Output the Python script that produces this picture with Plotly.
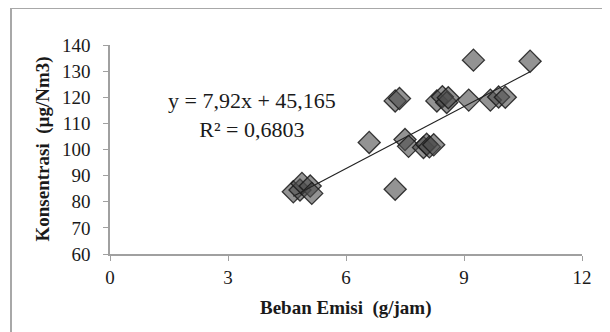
import plotly.graph_objects as go

beban_emisi = [4.66, 4.83, 4.88, 5.09, 5.13, 6.59, 7.25, 7.25, 7.36, 7.50, 7.59, 7.97,
               8.05, 8.12, 8.23, 8.31, 8.45, 8.56, 8.60, 9.12, 9.24, 9.67, 9.88, 10.05, 10.68]
konsentrasi = [83.8, 84.5, 87.0, 86.0, 83.2, 102.7, 84.8, 118.6, 119.5, 103.8, 101.2, 100.8,
               102.0, 101.0, 101.8, 118.6, 120.2, 118.0, 119.8, 118.9, 134.2, 118.9, 120.1, 120.0, 133.8]
slope = 7.92
intercept = 45.165
r_squared = "0,6803"
x_ticks = [0, 3, 6, 9, 12]
y_ticks = [60, 70, 80, 90, 100, 110, 120, 130, 140]
x_title = "Beban Emisi  (g/jam)"
y_title = "Konsentrasi  (µg/Nm3)"

xmin, xmax = min(beban_emisi), max(beban_emisi)
trend_x = [xmin, xmax]
trend_y = [slope * v + intercept for v in trend_x]

fig = go.Figure()
fig.add_trace(go.Scatter(
    x=beban_emisi, y=konsentrasi, mode="markers",
    marker=dict(symbol="diamond", size=17, color="rgba(75,75,75,0.6)",
                line=dict(color="rgba(25,25,25,0.85)", width=1.3)),
    showlegend=False, hoverinfo="x+y"))
fig.add_trace(go.Scatter(
    x=trend_x, y=trend_y, mode="lines",
    line=dict(color="#222222", width=1.2), showlegend=False))

serif = "Liberation Serif, Times New Roman, serif"
axis_common = dict(showgrid=False, zeroline=False, showline=True, linecolor="#a0a0a0",
                   linewidth=1.5, ticks="outside", ticklen=5, tickcolor="#a0a0a0",
                   tickwidth=1.2, automargin=False,
                   tickfont=dict(family=serif, size=19, color="#1a1a1a"))

# page body has an 8px margin, so the figure is sized/offset to compensate
OFF = 8
W, H = 610 - OFF, 332 - OFF
L, T = 110 - OFF, 45 - OFF
R = W - (582 - OFF)
B = H - (254 - OFF)
pw, ph = W - L - R, H - T - B

fig.update_layout(
    width=W, height=H,
    margin=dict(l=L, r=R, t=T, b=B, pad=0),
    paper_bgcolor="white", plot_bgcolor="white",
    xaxis=dict(range=[0, 12], tickvals=x_ticks, ticklabelstandoff=0, **axis_common),
    yaxis=dict(range=[60, 140], tickvals=y_ticks, ticklabelstandoff=9, **axis_common),
    annotations=[
        dict(x=3.6, y=113.2, xref="x", yref="y", showarrow=False, align="center",
             xanchor="center", yanchor="middle",
             text=f"y = {str(slope).replace('.', ',')}x + {str(intercept).replace('.', ',')}<br>R² = {r_squared}",
             font=dict(family=serif, size=22, color="#1a1a1a")),
        dict(x=0.5, y=0, xref="paper", yref="paper", showarrow=False, yshift=-54,
             xanchor="center", yanchor="middle",
             text=f"<b>{x_title.replace(' ', '&nbsp;')}</b>",
             font=dict(family=serif, size=19, color="#1a1a1a")),
        dict(x=0, y=0.5, xref="paper", yref="paper", showarrow=False, xshift=-68, textangle=-90,
             xanchor="center", yanchor="middle",
             text=f"<b>{y_title.replace(' ', '&nbsp;')}</b>",
             font=dict(family=serif, size=19, color="#1a1a1a")),
    ],
    shapes=[
        dict(type="line", xref="paper", yref="paper", x0=-(L - (11 - OFF)) / pw, x1=-(L - (11 - OFF)) / pw,
             y0=1.3, y1=-0.5, line=dict(color="#a8a8a8", width=2)),
        dict(type="line", xref="paper", yref="paper", x0=-(L - (11 - OFF)) / pw, x1=1.3,
             y0=1 + (T - 0) / ph, y1=1 + (T - 0) / ph, line=dict(color="#a8a8a8", width=2)),
    ],
)
fig.write_html("out.html")
